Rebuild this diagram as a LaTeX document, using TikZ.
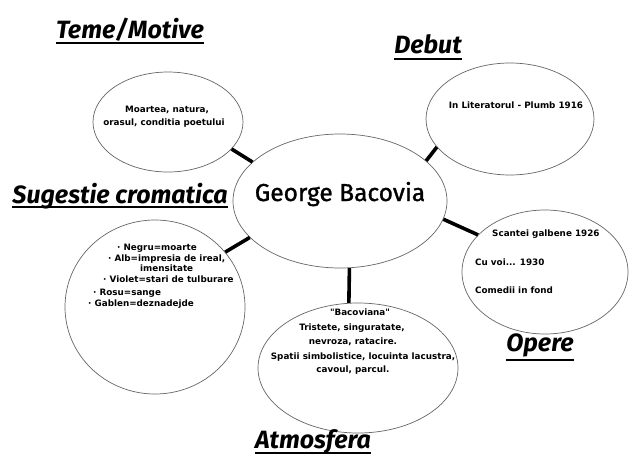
\documentclass[tikz,border=0pt]{standalone}
\usepackage{fontspec}
\setmainfont{Fira Sans}
\newfontfamily\bodyf{DejaVu Sans}
\newfontfamily\namef{Fira Sans}[FakeBold=1.2]
\usetikzlibrary{shapes.geometric}
\begin{document}
\begin{tikzpicture}[x=1pt,y=-1pt,
  bubble/.style={ellipse, draw=black!60, line width=0.7pt, inner sep=0pt},
  link/.style={line width=3.6pt},
  ttl/.style={font=\fontsize{25}{28}\selectfont\bfseries\itshape, inner sep=0pt, anchor=base},
  txt/.style={font=\bodyf\fontsize{8.8}{10}\selectfont\bfseries, inner sep=0pt, anchor=base},
  txtl/.style={txt, anchor=base west},
  uline/.style={line width=1.6pt}]
\useasboundingbox[fill=white] (0,0) rectangle (640,472);
% bubbles
\node[bubble, minimum width=214pt, minimum height=134pt] (c) at (340,201) {};
\node[bubble, minimum width=150pt, minimum height=100pt] (tm) at (168,122) {};
\node[bubble, minimum width=168pt, minimum height=112pt] (db) at (510,119) {};
\node[bubble, minimum width=180pt, minimum height=174pt] (sc) at (155,307) {};
\node[bubble, minimum width=200pt, minimum height=130pt] (at) at (358,368) {};
\node[bubble, minimum width=166pt, minimum height=124pt] (op) at (545,272) {};
% connectors
\draw[link] (c.156) -- (tm.-23);
\draw[link] (c.25) -- (db.-159);
\draw[link] (c.-10) -- (op.151);
\draw[link] (c.-158) -- (sc.38);
\draw[link] (c.-82) -- (at.98);
% centre text
\node[font=\namef\fontsize{24.5}{28}\selectfont, inner sep=0pt, anchor=base] (name) at (340,201) {George Bacovia};
% titles
\node[ttl] (t1) at (130,38) {Teme/Motive};
\draw[uline] ([yshift=-5pt]t1.base west) -- ([yshift=-5pt]t1.base east);
\node[ttl] (t2) at (428,53) {Debut};
\draw[uline] ([yshift=-6pt]t2.base west) -- ([yshift=-6pt]t2.base east);
\node[ttl] (t3) at (120,203) {Sugestie cromatica};
\draw[uline] ([yshift=-4pt]t3.base west) -- ([yshift=-4pt]t3.base east);
\node[ttl] (t4) at (540,351) {Opere};
\draw[uline] ([yshift=-9pt]t4.base west) -- ([yshift=-9pt]t4.base east);
\node[ttl] (t5) at (313,448) {Atmosfera};
\draw[uline] ([yshift=-5pt]t5.base west) -- ([yshift=-5pt]t5.base east);
% Teme text
\node[txt] (tm1) at (167,112) {Moartea, natura,};
\node[txt] (tm2) at (164,125) {orasul, conditia poetului};
% Debut text
\node[txt] (db1) at (516,108) {In Literatorul - Plumb 1916};
% Opere text
\node[txtl] (op1) at (492,236) {Scantei galbene 1926};
\node[txtl] (op2) at (475,265) {Cu voi... 1930};
\node[txtl] (op3) at (475,293) {Comedii in fond};
% Sugestie text
\node[txtl] (sc1) at (117,250) {· Negru=moarte};
\node[txtl] (sc2) at (108,261) {· Alb=impresia de ireal,};
\node[txtl] (sc3) at (140,271) {imensitate};
\node[txtl] (sc4) at (103,282) {· Violet=stari de tulburare};
\node[txtl] (sc5) at (93,295) {· Rosu=sange};
\node[txtl] (sc6) at (88,306) {· Gablen=deznadejde};
% Atmosfera text
\node[txt] (at1) at (360,315) {"Bacoviana"};
\node[txt] (at2) at (352,330) {Tristete, singuratate,};
\node[txt] (at3) at (353,344) {nevroza, ratacire.};
\node[txt] (at4) at (363,359) {Spatii simbolistice, locuinta lacustra,};
\node[txt] (at5) at (353,372) {cavoul, parcul.};
\end{tikzpicture}
\end{document}
